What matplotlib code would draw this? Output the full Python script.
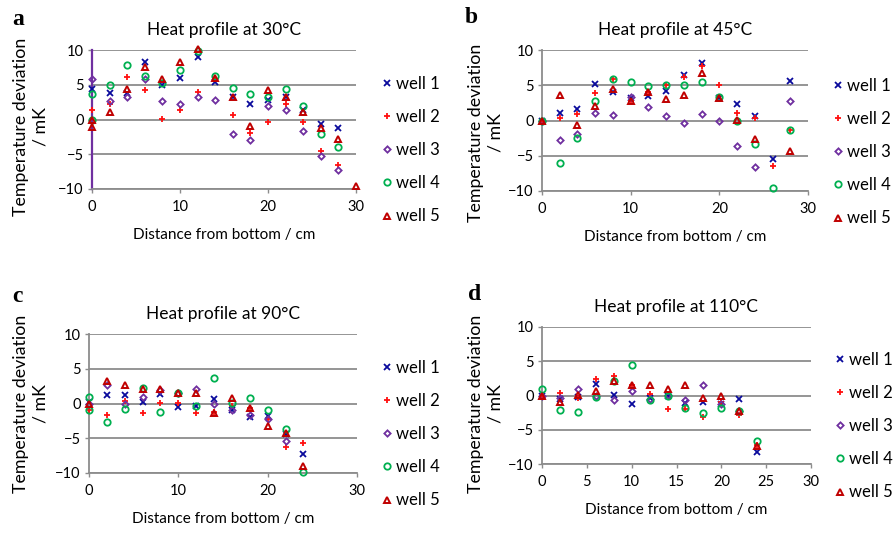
import numpy as np
import matplotlib
matplotlib.use('Agg')
import matplotlib.pyplot as plt

nan = np.nan

# Panel a - 30 C
dist_a = [0, 0, 2, 4, 6, 8, 10, 12, 14, 16, 18, 20, 22, 24, 26, 28, 30]
a_w1 = [4.4, nan, 3.8, 3.8, 8.3, 4.9, 6.0, 9.0, 5.4, 3.2, 2.3, 2.8, 3.2, 1.3, -0.6, -1.2, nan]
a_w2 = [1.4, nan, 2.2, 6.1, 4.2, 0.1, 1.4, 3.9, 5.8, 0.7, -2.0, -0.4, 2.2, -0.3, -4.5, -6.6, nan]
a_w3 = [5.8, nan, 2.6, 3.2, 5.8, 2.6, 2.2, 3.3, 2.8, -2.1, -2.9, 2.0, 1.4, -1.6, -5.3, -7.2, nan]
a_w4 = [3.6, 0.0, 5.0, 7.9, 6.2, 5.3, 7.1, 9.8, 6.3, 4.5, 3.7, 3.3, 4.4, 1.9, -2.1, -3.9, nan]
a_w5 = [0.0, -1.1, 1.1, 4.4, 7.5, 5.8, 8.3, 10.1, 5.9, 3.2, -1.0, 4.2, 3.2, 1.1, -1.2, -2.8, -9.5]

# Panel b - 45 C
dist_b = [0, 2, 4, 6, 8, 10, 12, 14, 16, 18, 20, 22, 24, 26, 28]
b_w1 = [0, 1.1, 1.7, 5.2, 4.0, 3.2, 3.5, 4.2, 6.4, 8.2, 3.2, 2.3, 0.7, -5.4, 5.6]
b_w2 = [0, 0.3, 0.9, 3.9, 5.9, 2.8, 4.0, 5.1, 6.2, 7.8, 5.1, 1.0, 0.4, -6.4, -1.4]
b_w3 = [0, -2.7, -1.9, 1.0, 0.8, 3.3, 1.9, 0.6, -0.4, 0.9, -0.1, -3.6, -6.6, nan, 2.7]
b_w4 = [0, -6.0, -2.5, 2.7, 5.9, 5.5, 4.9, 5.1, 5.0, 5.4, 3.3, -0.1, -3.3, -9.6, -1.4]
b_w5 = [0, 3.6, -0.6, 2.0, 4.5, 2.7, 4.1, 3.1, 3.6, 6.8, 3.2, 0.1, -2.6, nan, -4.3]

# Panel c - 90 C
dist_c = [0, 0, 2, 4, 6, 8, 10, 12, 14, 16, 18, 20, 22, 24]
c_w1 = [0.2, nan, 1.2, 1.2, 0.2, 1.3, -0.5, -0.3, 0.6, -1.0, -1.9, -1.8, -4.4, -7.2]
c_w2 = [-1.0, nan, -1.6, 0.3, -1.4, 0.1, 0.1, -1.4, -1.2, -0.4, -0.7, -2.3, -6.2, -5.7]
c_w3 = [-0.1, nan, 2.6, -0.1, 0.9, 1.9, 1.5, 2.1, 0.0, -1.0, -1.6, -2.3, -5.4, nan]
c_w4 = [1.0, -1.0, -2.6, -0.8, 2.2, -1.2, 1.5, -0.3, 3.6, 0.1, 0.8, -0.9, -3.6, -9.9]
c_w5 = [-0.1, nan, 3.2, 2.7, 2.1, 2.1, 1.5, 1.5, -1.3, 0.8, -0.7, -3.2, -4.2, -9.0]

# Panel d - 110 C
dist_d = [0, 2, 4, 6, 8, 10, 12, 14, 16, 18, 20, 22, 24]
d_w1 = [0, -0.5, -0.2, 1.7, 0.1, -1.3, -0.4, 0.0, -1.1, -0.9, -1.2, -0.5, -8.3]
d_w2 = [-0.1, 0.3, -0.3, 2.4, 2.8, 1.6, 0.2, -1.9, -2.0, -3.1, -1.0, -2.8, -7.2]
d_w3 = [0, -0.3, 1.0, 0.0, -0.7, 0.7, -0.5, 0.05, -0.7, 1.5, -1.2, -2.2, nan]
d_w4 = [1.0, -2.1, -2.4, -0.15, 2.1, 4.4, -0.6, -0.05, -1.8, -2.5, -1.8, -2.2, -6.7]
d_w5 = [-0.1, -1.0, 0.1, 0.6, 2.1, 1.5, 1.6, 0.9, 1.5, -0.3, 0.0, -2.2, -7.3]

well_labels = ['well 1', 'well 2', 'well 3', 'well 4', 'well 5']
panel_letters = ['a', 'b', 'c', 'd']
titles = ['Heat profile at 30°C', 'Heat profile at 45°C',
          'Heat profile at 90°C', 'Heat profile at 110°C']

plt.rcParams['font.family'] = ['Lato', 'DejaVu Sans']

GRID = '#8c8c8c'
styles = [
    dict(marker='x', color='#0a0a9c', ms=4.5, mew=1.3, ls='none'),
    dict(marker='+', color='#ff1010', ms=5, mew=1.3, ls='none'),
    dict(marker='D', mfc='none', mec='#7030a0', ms=3.2, mew=1.3, ls='none'),
    dict(marker='o', mfc='none', mec='#00b050', ms=4.6, mew=1.3, ls='none'),
    dict(marker='^', mfc='none', mec='#c00000', ms=4.8, mew=1.4, ls='none'),
]

W, H = 894, 533
fig = plt.figure(figsize=(W / 100, H / 100), dpi=100)

# axes boxes in pixels: left, top, right, bottom
boxes = [(92, 50, 356, 189), (542, 50, 808, 191), (89, 334, 357, 473), (542, 327, 811, 464)]
legend_pos = [(375, 69), (826, 71), (375, 353), (828, 345)]
ylabel_pos = [(31, 127), (486, 133), (31, 404), (486, 404)]
letter_pos = [(12, 9), (465, 7), (12, 286), (468, 284)]

panels = [
    (dist_a, [a_w1, a_w2, a_w3, a_w4, a_w5]),
    (dist_b, [b_w1, b_w2, b_w3, b_w4, b_w5]),
    (dist_c, [c_w1, c_w2, c_w3, c_w4, c_w5]),
    (dist_d, [d_w1, d_w2, d_w3, d_w4, d_w5]),
]

for i, (dist, wells) in enumerate(panels):
    l, t, r, b = boxes[i]
    ax = fig.add_axes([l / W, 1 - b / H, (r - l) / W, (b - t) / H])
    handles = []
    for w, st, lab in zip(wells, styles, well_labels):
        h, = ax.plot(dist, w, label=lab, clip_on=False, zorder=3, **st)
        handles.append(h)
    ax.set_xlim(0, 30)
    ax.set_ylim(-10, 10)
    ax.set_yticks([-10, -5, 0, 5, 10])
    if i == 3:
        ax.set_xticks([0, 5, 10, 15, 20, 25, 30])
    else:
        ax.set_xticks([0, 10, 20, 30])
    ax.grid(axis='y', color=GRID, lw=1.3)
    ax.set_axisbelow(True)
    for s in ['top', 'right']:
        ax.spines[s].set_visible(False)
    for s in ['left', 'bottom']:
        ax.spines[s].set_color(GRID)
        ax.spines[s].set_linewidth(1.3)
    if i == 0:
        ax.spines['left'].set_color('#7030a0')
        ax.spines['left'].set_linewidth(1.6)
        ax.spines['left'].set_zorder(2.5)
    ax.tick_params(axis='both', length=3, width=1, color=GRID, labelsize=10.5, pad=3)
    ax.tick_params(axis='x', pad=5)

    ax.set_title(titles[i], fontsize=12.5, pad=11)
    ax.set_xlabel('Distance from bottom / cm', fontsize=11, labelpad=10)

    lx, ly = legend_pos[i]
    ax.legend(handles=handles, loc='upper left', bbox_to_anchor=(lx / W, 1 - ly / H),
              bbox_transform=fig.transFigure, frameon=False, fontsize=12,
              handlelength=0.6, handletextpad=0.25, labelspacing=1.03, borderaxespad=0)

    yx, yy = ylabel_pos[i]
    fig.text(yx / W, 1 - yy / H, 'Temperature deviation\n/ mK', rotation=90,
             ha='center', va='center', multialignment='center', fontsize=12.8,
             linespacing=1.3)

    px, py = letter_pos[i]
    fig.text(px / W, 1 - py / H, panel_letters[i], ha='left', va='top',
             fontsize=17, fontweight='bold', family='Liberation Serif')

fig.savefig('out.png', dpi=100)
